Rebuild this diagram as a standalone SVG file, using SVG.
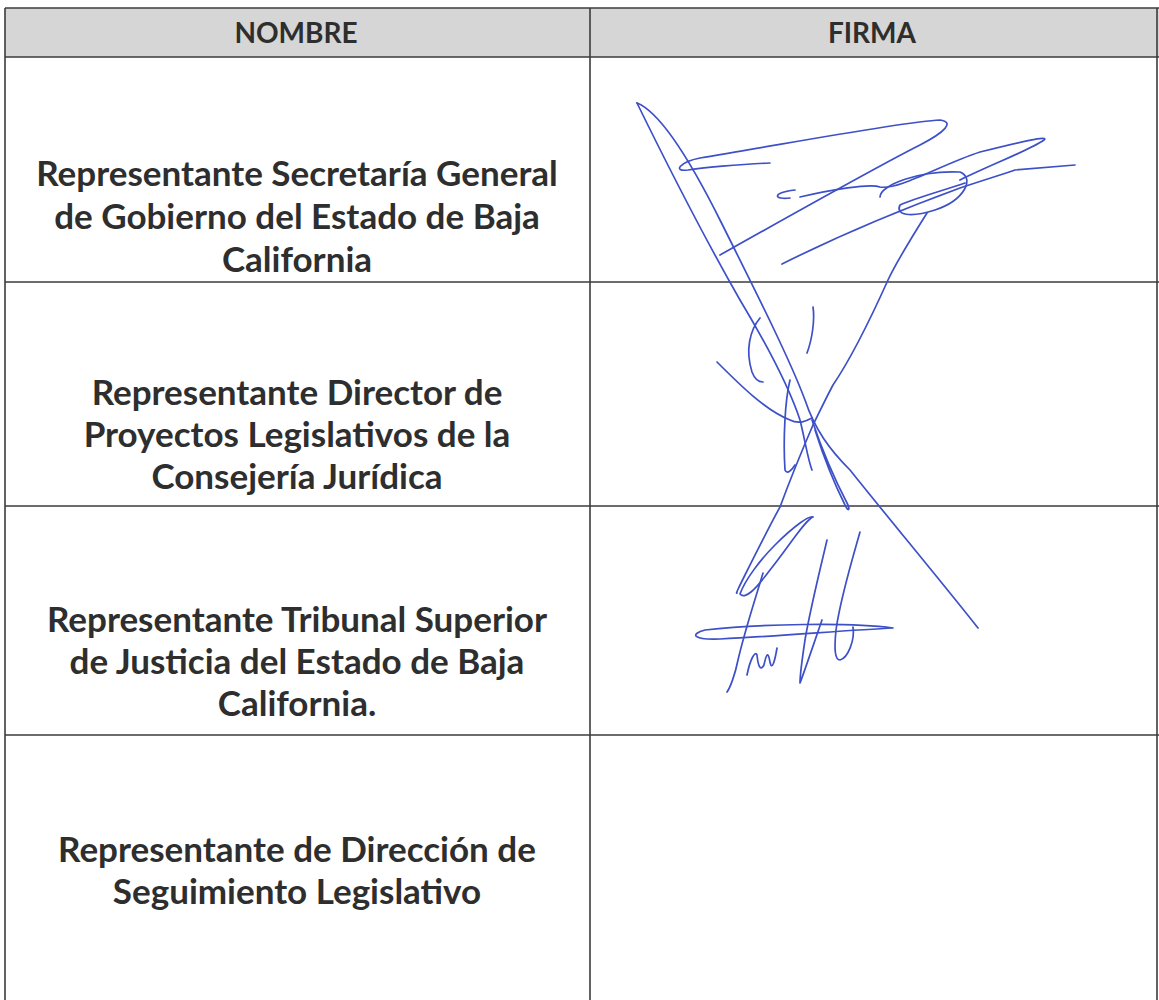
<svg xmlns="http://www.w3.org/2000/svg" width="1159" height="1000" viewBox="0 0 1159 1000">
<style>
.t{font-family:Lato,"Open Sans","Liberation Sans",sans-serif;font-weight:700;fill:#2e2e2e;text-anchor:middle}
.h{font-size:28px}
.c{font-size:35px}
.g{stroke:#3c3c3c;stroke-width:1.6;fill:none}
.s{stroke:#3d50c8;stroke-width:1.7;fill:none;stroke-linecap:round;stroke-linejoin:round}
</style>
<rect width="1159" height="1000" fill="#fff"/>
<g id="table">
<rect x="5" y="8" width="1154" height="49" fill="#d6d6d6"/>
<path class="g" d="M5,8H1159M5,57H1159M5,282H1159M5,506H1159M5,735H1159M5,8V1000M590,8V1000M1157,8V1000"/>
</g>
<g id="header">
<text class="t h" x="296" y="43">NOMBRE</text>
<text class="t h" x="872" y="43">FIRMA</text>
</g>
<g id="row1">
<text class="t c" x="297" y="186">Representante Secretaría General</text>
<text class="t c" x="297" y="229">de Gobierno del Estado de Baja</text>
<text class="t c" x="297" y="272">California</text>
</g>
<g id="row2">
<text class="t c" x="297" y="405">Representante Director de</text>
<text class="t c" x="297" y="447">Proyectos Legislativos de la</text>
<text class="t c" x="297" y="489">Consejería Jurídica</text>
</g>
<g id="row3">
<text class="t c" x="297" y="632">Representante Tribunal Superior</text>
<text class="t c" x="297" y="674">de Justicia del Estado de Baja</text>
<text class="t c" x="297" y="716">California.</text>
</g>
<g id="row4">
<text class="t c" x="297" y="862">Representante de Dirección de</text>
<text class="t c" x="297" y="904">Seguimiento Legislativo</text>
</g>
<g id="signature">
<path class="s" d="M637,103 C660,112 690,160 720,220 C760,300 790,360 805,400 C815,430 830,450 850,470 C890,520 940,580 978,628"/>
<path class="s" d="M637,103 C660,150 700,230 740,300 C770,350 790,390 800,420 C805,440 808,460 812,470"/>
<path class="s" d="M770,163 C740,164 700,168 688,170 C672,172 680,162 700,158 C780,145 900,122 940,120 C955,122 945,132 920,145 C880,165 800,210 720,255"/>
<path class="s" d="M800,197 C830,190 870,183 880,187 C900,190 940,165 980,152 C1020,142 1050,135 1044,140 C1030,150 990,165 960,180"/>
<path class="s" d="M782,264 C840,235 900,210 960,188 C990,178 1010,172 1015,170 L1075,165"/>
<path class="s" d="M790,198 C775,200 770,193 795,190"/>
<path class="s" d="M880,197 C880,185 920,170 960,172 C975,178 965,200 935,210 C910,218 895,215 900,205 C915,198 945,190 965,183"/>
<path class="s" d="M927,213 C910,240 895,265 888,280 C870,320 850,360 833,385 C825,400 818,415 813,425 C800,455 790,480 780,507 C770,525 760,545 745,575 C740,585 735,595 737,593"/>
<path class="s" d="M717,362 C740,385 765,410 790,420 C800,425 808,420 812,418"/>
<path class="s" d="M813,307 C815,320 812,340 807,353"/>
<path class="s" d="M760,318 C750,330 745,350 752,372 C755,380 760,382 763,382"/>
<path class="s" d="M790,380 C785,400 783,440 785,470 C787,475 792,470 795,465"/>
<path class="s" d="M812,420 C822,450 835,480 848,505 C850,510 848,512 845,505 C835,485 823,455 815,430"/>
<path class="s" d="M813,517 C805,520 790,545 770,570 C755,590 745,600 740,594 C745,580 760,560 775,545 C795,525 810,515 813,517"/>
<path class="s" d="M763,573 C755,600 745,630 738,660 C735,675 730,688 727,692"/>
<path class="s" d="M893,628 C850,622 760,624 705,630 C690,634 692,640 720,639 C780,636 850,630 893,628"/>
<path class="s" d="M747,675 C750,660 755,650 757,655 C758,665 760,672 764,665 C766,655 768,650 770,662 C772,672 775,660 777,648"/>
<path class="s" d="M827,540 C820,570 810,610 805,640 C802,660 800,675 800,683 C805,670 815,640 822,620"/>
<path class="s" d="M860,532 C852,560 840,600 836,630 C834,650 835,660 840,660 C848,658 855,640 853,627"/>
</g>
</svg>
